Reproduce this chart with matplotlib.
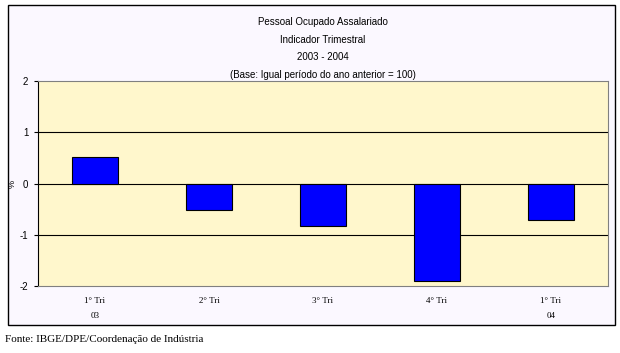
import matplotlib.pyplot as plt
from matplotlib.patches import Rectangle

categorias = ['1° Tri\n03', '2° Tri', '3° Tri', '4° Tri', '1° Tri\n04']
valores = [0.52, -0.52, -0.82, -1.9, -0.72]
yticks = [-2, -1, 0, 1, 2]

W, H = 620, 353
fig = plt.figure(figsize=(W / 100, H / 100), dpi=100)
fig.patch.set_facecolor('white')

# caixa externa do grafico
fig.patches.append(Rectangle((8 / W, 1 - 325 / H), 607 / W, 320 / H,
                             transform=fig.transFigure, facecolor='#FBF8FF',
                             edgecolor='black', linewidth=1, zorder=-1))

ax = fig.add_axes([38 / W, 1 - 286 / H, 570 / W, 205 / H])
ax.set_zorder(2)
ax.set_facecolor('#FFF7CC')
x = list(range(len(valores)))
ax.bar(x, valores, width=0.41, color='#0000FF', edgecolor='black', linewidth=0.8, zorder=3)
ax.set_xlim(-0.5, len(valores) - 0.5)
ax.set_ylim(-2, 2)
ax.set_yticks(yticks)
ax.set_yticklabels([str(v) for v in yticks], fontsize=7, family='Liberation Sans')
for v in [-1, 0, 1]:
    ax.axhline(v, color='black', linewidth=0.8, zorder=2)
ax.set_xticks(x)
ax.set_xticklabels(categorias, fontsize=6.5, family='Liberation Serif', linespacing=2.1)
ax.tick_params(axis='x', length=0, pad=8)
ax.tick_params(axis='y', length=3, width=0.8, pad=4)
for s in ['top', 'right', 'bottom']:
    ax.spines[s].set_color('#808080')
ax.spines['left'].set_color('black')
ax.set_ylabel('%', fontsize=6.5, rotation=90, family='Liberation Sans')
ax.yaxis.set_label_coords(-0.037, 0.5)

fig.text(323 / W, 1 - 17 / H,
         'Pessoal Ocupado Assalariado\nIndicador Trimestral\n2003 - 2004\n(Base: Igual período do ano anterior = 100)',
         ha='center', va='top', fontsize=7, family='Liberation Sans', linespacing=1.95)
fig.text(5 / W, 1 - 339 / H, 'Fonte: IBGE/DPE/Coordenação de Indústria',
         ha='left', va='center', fontsize=8, family='Liberation Serif')

fig.savefig('out.png', dpi=100)
